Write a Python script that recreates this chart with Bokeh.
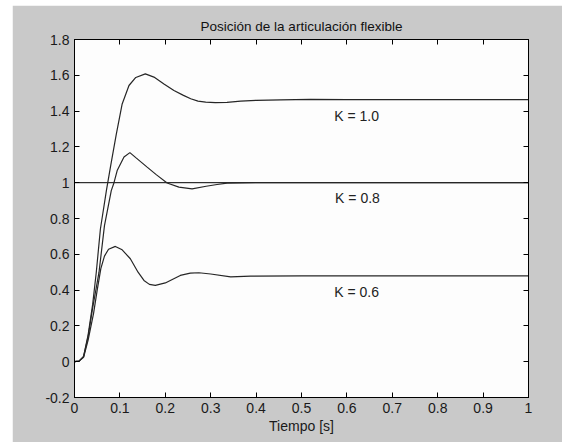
from bokeh.plotting import figure
from bokeh.models import LinearAxis, FixedTicker, Range1d, Label
from bokeh.embed import file_html
from bokeh.resources import INLINE

# ---- data ----
t_k10 = [0, 0.01, 0.02, 0.03, 0.04, 0.048, 0.057, 0.0705, 0.08, 0.092, 0.105, 0.12, 0.135,
         0.156, 0.175, 0.197, 0.219, 0.24, 0.256, 0.272, 0.289, 0.31, 0.336, 0.366, 0.4,
         0.454, 0.52, 0.6, 0.7, 0.8, 0.9, 1.0]
y_k10 = [0, 0.003, 0.03, 0.15, 0.32, 0.5, 0.74, 0.96, 1.1, 1.27, 1.44, 1.543, 1.588,
         1.608, 1.59, 1.552, 1.515, 1.488, 1.469, 1.456, 1.45, 1.447, 1.449, 1.456, 1.46,
         1.463, 1.465, 1.464, 1.464, 1.464, 1.464, 1.464]

t_k08 = [0, 0.01, 0.02, 0.03, 0.04, 0.054, 0.066, 0.081, 0.087, 0.094, 0.109, 0.122, 0.135,
         0.16, 0.18, 0.204, 0.23, 0.259, 0.29, 0.314, 0.336, 0.4, 0.5, 0.7, 1.0]
y_k08 = [0, 0.003, 0.028, 0.14, 0.3, 0.5, 0.76, 0.956, 1.0, 1.068, 1.143, 1.168, 1.14,
         1.087, 1.045, 0.998, 0.975, 0.966, 0.98, 0.99, 0.998, 1.0, 1.0, 1.0, 1.0]

t_k06 = [0, 0.01, 0.02, 0.03, 0.042, 0.05, 0.058, 0.066, 0.075, 0.09, 0.105, 0.123, 0.14,
         0.153, 0.165, 0.178, 0.2, 0.233, 0.255, 0.274, 0.3, 0.344, 0.388, 0.5, 0.7, 1.0]
y_k06 = [0, 0.003, 0.025, 0.12, 0.27, 0.4, 0.52, 0.59, 0.628, 0.644, 0.625, 0.575, 0.5,
         0.454, 0.432, 0.426, 0.44, 0.482, 0.495, 0.497, 0.49, 0.474, 0.478, 0.48, 0.48, 0.48]

t_ref = [0, 1]
y_ref = [1, 1]

curve_labels = ["K = 1.0", "K = 0.8", "K = 0.6"]
label_t = [0.572, 0.574, 0.572]
label_y = [1.37, 0.917, 0.387]

x_ticks = [0, 0.1, 0.2, 0.3, 0.4, 0.5, 0.6, 0.7, 0.8, 0.9, 1]
x_tick_labels = ["0", "0.1", "0.2", "0.3", "0.4", "0.5", "0.6", "0.7", "0.8", "0.9", "1"]
y_ticks = [-0.2, 0, 0.2, 0.4, 0.6, 0.8, 1, 1.2, 1.4, 1.6, 1.8]
y_tick_labels = ["-0.2", "0", "0.2", "0.4", "0.6", "0.8", "1", "1.2", "1.4", "1.6", "1.8"]

title_text = "Posición de la articulación flexible"
x_label = "Tiempo [s]"

# ---- figure ----
GRAY = "#c9c9c9"
FONT = "Liberation Sans"

p = figure(width=550, height=437, output_backend="svg", toolbar_location=None,
           x_range=Range1d(0, 1), y_range=Range1d(-0.2, 1.8),
           x_axis_location=None, y_axis_location=None,
           min_border_left=62, min_border_right=34, min_border_top=34, min_border_bottom=45)
p.margin = (5, 0, 0, 12)
p.border_fill_color = GRAY
p.background_fill_color = "#fdfdfd"
p.outline_line_color = "black"
p.outline_line_width = 1
p.xgrid.visible = False
p.ygrid.visible = False

p.title.text = title_text
p.title.align = "center"
p.title.text_font = FONT
p.title.text_font_size = "13.5px"
p.title.text_font_style = "normal"
p.title.text_color = "#111111"
p.title.standoff = 12


def make_axis(ticks, labels, show_labels):
    ax = LinearAxis(ticker=FixedTicker(ticks=ticks))
    ax.major_tick_in = 5
    ax.major_tick_out = 0
    ax.minor_tick_in = 0
    ax.minor_tick_out = 0
    ax.axis_line_color = "black"
    ax.major_tick_line_color = "black"
    if show_labels:
        ax.major_label_overrides = {tv: lab for tv, lab in zip(ticks, labels)}
        ax.major_label_text_font = FONT
        ax.major_label_text_font_size = "14px"
        ax.major_label_text_color = "#1a1a1a"
        ax.major_label_standoff = 6
    else:
        ax.major_label_text_color = None
        ax.major_label_text_font_size = "1px"
        ax.major_label_standoff = 0
    return ax


xb = make_axis(x_ticks, x_tick_labels, True)
xb.major_label_standoff = 5
xb.axis_label = x_label
xb.axis_label_text_font = FONT
xb.axis_label_text_font_size = "14px"
xb.axis_label_text_font_style = "normal"
xb.axis_label_text_color = "#1a1a1a"
xb.axis_label_standoff = 2
p.add_layout(xb, "below")

yl = make_axis(y_ticks, y_tick_labels, True)
yl.major_label_standoff = 5
p.add_layout(yl, "left")

p.add_layout(make_axis(x_ticks, x_tick_labels, False), "above")
p.add_layout(make_axis(y_ticks, y_tick_labels, False), "right")

LINE = "#262626"
p.line(t_ref, y_ref, line_color="black", line_width=1)
p.line(t_k10, y_k10, line_color=LINE, line_width=1.2)
p.line(t_k08, y_k08, line_color=LINE, line_width=1.2)
p.line(t_k06, y_k06, line_color=LINE, line_width=1.2)

for txt, tx, ty in zip(curve_labels, label_t, label_y):
    p.add_layout(Label(x=tx, y=ty, text=txt, text_font=FONT, text_font_size="14px",
                       text_color="#222222", text_baseline="middle", text_align="left"))

open("out.html", "w").write(file_html(p, INLINE))
